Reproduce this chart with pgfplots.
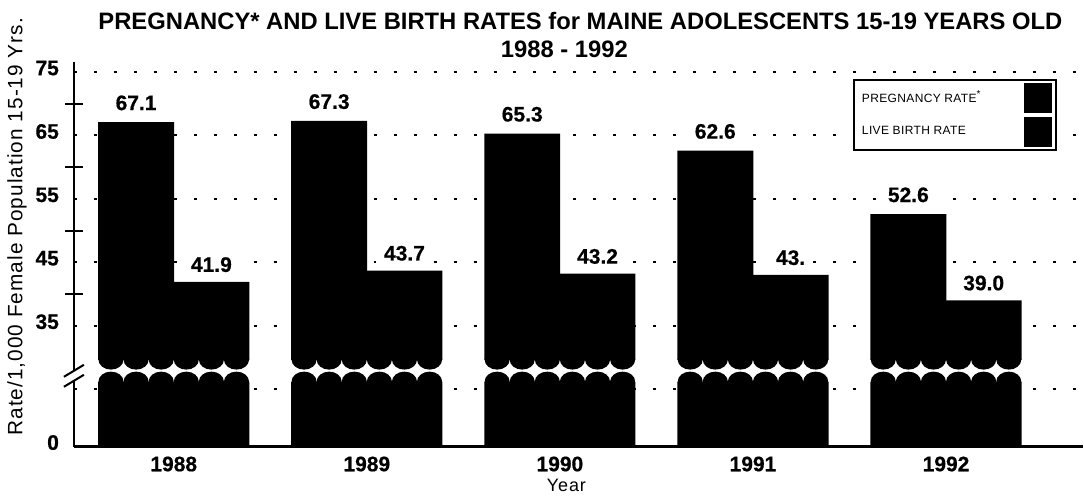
\documentclass[border=0pt]{standalone}
\usepackage{fontspec}
\setmainfont{Liberation Sans}
\newfontfamily\lsp[LetterSpace=5]{Liberation Sans}
\newfontfamily\lgd[LetterSpace=3]{Liberation Sans}
\newfontfamily\heavy[FakeBold=0.6]{Liberation Sans Bold}
\usepackage{pgfplots}
\usepackage{pgfplotstable}
\usetikzlibrary{calc}
\pgfplotsset{compat=1.18}
\pgfplotstableread{
x xp xb preg birth plab blab
0 -0.195 0.195 67.1 41.9 67.1 41.9
1 0.805 1.195 67.3 43.7 67.3 43.7
2 1.805 2.195 65.3 43.2 65.3 43.2
3 2.805 3.195 62.6 43.0 62.6 43.
4 3.805 4.195 52.6 39.0 52.6 39.0
}\data
\begin{document}
\begin{tikzpicture}
\begin{axis}[
  at={(0,0)}, anchor=south west,
  scale only axis, width=505pt, height=192.5pt,
  xmin=-0.517, xmax=4.709, ymin=15.94, ymax=76.6,
  axis x line=bottom, axis y line=left,
  axis line style={-, line width=1.1pt},
  xtick={0,1,2,3,4}, xticklabels={1988,1989,1990,1991,1992},
  ytick={25,35,45,55,65,75}, yticklabels={,35,45,55,65,75},
  extra y ticks={15.94}, extra y tick labels={0},
  extra y tick style={grid=none},
  minor ytick={40,50,60,70},
  major tick length=0pt, minor tick length=9pt, tick align=center,
  tick style={line width=1pt, black},
  ymajorgrids,
  major grid style={black, line width=1pt, dash pattern=on 1.5pt off 8.5pt},
  /pgf/number format/assume math mode=true,
  ticklabel style={font=\heavy\fontsize{10.5}{12}\selectfont},
  yticklabel style={xshift=-4pt, yshift=2pt},
  xticklabel style={yshift=-1.5pt},
  legend plot pos=right,
  legend style={at={(rel axis cs:0.974,0.956)}, anchor=north east,
    draw=black, line width=0.9pt, font=\lgd\fontsize{6}{7}\selectfont,
    row sep=2pt, inner xsep=2pt, inner ysep=1.5pt, cells={anchor=west}},
]
\addplot[ybar, bar width=0.393, bar shift=0pt, fill=black, draw=none,
  nodes near coords, point meta=explicit symbolic,
  nodes near coords style={font=\heavy\fontsize{10.5}{12}\selectfont, anchor=south, yshift=2.4pt, fill=white, inner xsep=4pt},
  legend image code/.code={\fill[black] (0pt,-7.5pt) rectangle (14pt,7.5pt);}]
  table[x=xp, y=preg, meta=plab]{\data};
\addlegendentry{\makebox[79pt][l]{PREGNANCY RATE\textsuperscript{*}}}
\addplot[ybar, bar width=0.393, bar shift=0pt, fill=black, draw=none,
  nodes near coords, point meta=explicit symbolic,
  nodes near coords style={font=\heavy\fontsize{10.5}{12}\selectfont, anchor=south, yshift=1.4pt, fill=white, inner xsep=4pt},
  legend image code/.code={\fill[black] (0pt,-7.5pt) rectangle (14pt,7.5pt);}]
  table[x=xb, y=birth, meta=blab]{\data};
\addlegendentry{\makebox[79pt][l]{LIVE BIRTH RATE}}
% bar breaks
\foreach \g in {0,1,2,3,4}{
  \edef\tmp{\noexpand\fill[white] (axis cs:\g-0.393,26.18) rectangle (axis cs:\g+0.393,29.65);}\tmp
  \foreach \o in {-0.325,-0.195,-0.065,0.065,0.195,0.325}{
    \pgfmathsetmacro\xc{\g+\o}
    \edef\tmp{\noexpand\fill[black] (axis cs:\xc,29.65) ellipse [x radius=6.28pt, y radius=5pt];
      \noexpand\fill[black] (axis cs:\xc,26.18) ellipse [x radius=6.28pt, y radius=5pt];}\tmp
  }
}
\coordinate (brk) at (axis cs:-0.517,27.1);
\end{axis}
% axis break marks
\fill[white] ($(brk)+(-1.5pt,-2.5pt)$) rectangle ($(brk)+(1.5pt,2.5pt)$);
\draw[line width=1pt] ($(brk)+(-5pt,-5.5pt)$) -- ($(brk)+(5pt,0.5pt)$);
\draw[line width=1pt] ($(brk)+(-5pt,-0.5pt)$) -- ($(brk)+(5pt,5.5pt)$);
% titles and labels
\node[font=\bfseries\fontsize{11.9}{14}\selectfont] at (253.5pt,213pt) {PREGNANCY* AND LIVE BIRTH RATES for MAINE ADOLESCENTS 15-19 YEARS OLD};
\node[font=\bfseries\fontsize{11.9}{14}\selectfont] at (245.5pt,199pt) {1988 - 1992};
\node[font=\lsp\fontsize{9}{11}\selectfont] at (246.5pt,-19.5pt) {Year};
\node[font=\lsp\fontsize{10.4}{12}\selectfont, rotate=90] at (-28.5pt,110pt) {Rate/1,000 Female Population 15-19 Yrs.};
\path[use as bounding box] (-37pt,-24.5pt) rectangle (505pt,223.5pt);
\end{tikzpicture}
\end{document}
